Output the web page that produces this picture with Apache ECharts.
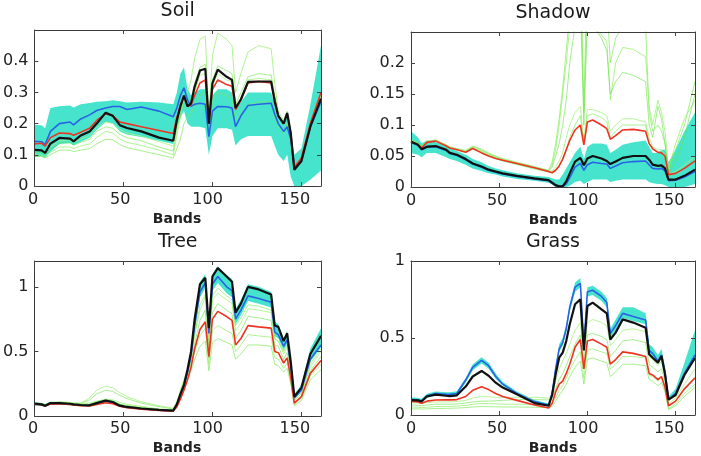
<!DOCTYPE html>
<html><head><meta charset="utf-8">
<script src="https://cdn.jsdelivr.net/npm/echarts@6/dist/echarts.min.js"></script>
<style>html,body{margin:0;padding:0;background:#fff}#c{width:701px;height:456px}</style>
</head><body><div id="c"></div>
<script>
// Band positions at which values were read
const bands = [0,4,6,9,14,20,22,26,31,35,40,44,48,52,60,70,78,80,82,84,86,88,90,93,96,98,100,103,108,111,113,116,120,126,133,135,137,140,142,144,146,150,155,161];
const titles = ['Soil','Shadow','Tree','Grass'];
const xName = 'Bands';

// ---- Soil ----
const soilBlack = [0.116,0.114,0.106,0.136,0.154,0.152,0.143,0.162,0.175,0.2, 0.235,0.225,0.195,0.186,0.175,0.155,0.145,0.21,0.255,0.29, 0.255,0.265,0.318,0.37,0.376,0.2,0.33,0.373,0.35,0.34, 0.25,0.278,0.334,0.335,0.335,0.27,0.225,0.2,0.234,0.17, 0.052,0.08,0.19,0.28];
const soilRed = [0.135,0.137,0.128,0.155,0.17,0.168,0.163,0.172,0.185,0.21, 0.232,0.225,0.205,0.2,0.19,0.178,0.168,0.22,0.26,0.285, 0.255,0.26,0.29,0.33,0.34,0.2,0.31,0.34,0.325,0.32, 0.245,0.275,0.33,0.335,0.33,0.28,0.225,0.2,0.23,0.17, 0.06,0.09,0.2,0.3];
const soilBlue = [0.143,0.142,0.133,0.175,0.2,0.205,0.196,0.215,0.228,0.242, 0.25,0.255,0.255,0.245,0.253,0.24,0.222,0.25,0.29,0.315, 0.275,0.255,0.262,0.265,0.262,0.158,0.24,0.255,0.254,0.25, 0.19,0.225,0.258,0.262,0.265,0.23,0.2,0.175,0.19,0.15, 0.06,0.08,0.19,0.27];
const soilLo = [0.092,0.095,0.09,0.11,0.135,0.138,0.13,0.142,0.155,0.18, 0.205,0.2,0.175,0.165,0.157,0.145,0.135,0.19,0.22,0.24, 0.2,0.19,0.19,0.19,0.185,0.1,0.16,0.185,0.185,0.18, 0.13,0.15,0.16,0.16,0.16,0.13,0.1,0.08,0.1,0.03, 0,0,0.02,0.05];
const soilHi = [0.196,0.195,0.185,0.25,0.256,0.258,0.252,0.262,0.266,0.27, 0.272,0.275,0.272,0.268,0.27,0.268,0.262,0.3,0.36,0.38, 0.31,0.29,0.3,0.31,0.31,0.22,0.29,0.31,0.31,0.3, 0.245,0.27,0.3,0.3,0.3,0.26,0.23,0.2,0.23,0.17, 0.1,0.12,0.26,0.45];
const soilG1 = [0.1,0.1,0.095,0.108,0.125,0.125,0.12,0.128,0.135,0.155, 0.175,0.17,0.15,0.14,0.13,0.115,0.1,0.16,0.22,0.28, 0.3,0.34,0.41,0.47,0.48,0.22,0.42,0.49,0.47,0.45, 0.3,0.36,0.43,0.45,0.44,0.33,0.24,0.21,0.24,0.17, 0.06,0.09,0.2,0.29];
const soilG2 = [0.108,0.108,0.102,0.118,0.138,0.138,0.132,0.14,0.15,0.175, 0.19,0.185,0.165,0.155,0.145,0.125,0.112,0.18,0.23,0.27, 0.26,0.28,0.33,0.38,0.39,0.2,0.34,0.385,0.37,0.36, 0.26,0.3,0.35,0.36,0.355,0.29,0.23,0.2,0.235,0.17, 0.055,0.085,0.2,0.28];
const soilG3 = [0.115,0.115,0.108,0.125,0.145,0.148,0.14,0.15,0.162,0.188, 0.205,0.2,0.18,0.17,0.16,0.142,0.128,0.2,0.24,0.28, 0.25,0.26,0.3,0.355,0.36,0.2,0.32,0.36,0.34,0.335, 0.245,0.28,0.34,0.345,0.34,0.27,0.22,0.2,0.23,0.17, 0.055,0.085,0.2,0.29];
const soilG4 = [0.095,0.095,0.09,0.1,0.115,0.115,0.11,0.115,0.12,0.135, 0.15,0.148,0.133,0.123,0.113,0.1,0.09,0.12,0.15,0.2, 0.22,0.23,0.26,0.29,0.3,0.18,0.27,0.3,0.29,0.28, 0.21,0.23,0.26,0.27,0.27,0.22,0.19,0.17,0.2,0.15, 0.06,0.09,0.19,0.28];

// ---- Shadow ----
const shadowBlack = [0.073,0.068,0.061,0.065,0.066,0.06,0.055,0.052,0.045,0.038, 0.033,0.028,0.025,0.022,0.018,0.014,0.011,0.007,0.003,0.001, 0.001,0.009,0.022,0.041,0.047,0.035,0.046,0.05,0.046,0.042, 0.037,0.041,0.047,0.05,0.05,0.044,0.036,0.034,0.035,0.03, 0.012,0.012,0.018,0.028];
const shadowRed = [0.074,0.068,0.063,0.072,0.074,0.066,0.063,0.06,0.056,0.062, 0.055,0.05,0.046,0.043,0.038,0.031,0.025,0.023,0.027,0.034, 0.045,0.06,0.075,0.092,0.1,0.068,0.105,0.108,0.1,0.094, 0.077,0.083,0.092,0.093,0.09,0.07,0.062,0.056,0.055,0.05, 0.02,0.022,0.03,0.042];
const shadowBlue = [0.072,0.067,0.06,0.064,0.065,0.059,0.054,0.051,0.044,0.037, 0.032,0.027,0.024,0.021,0.017,0.013,0.01,0.006,0.002,0.001, 0.001,0.005,0.015,0.032,0.038,0.027,0.036,0.04,0.038,0.037, 0.03,0.034,0.039,0.041,0.042,0.036,0.03,0.029,0.03,0.026, 0.01,0.011,0.016,0.025];
const shadowLo = [0.055,0.052,0.048,0.055,0.055,0.048,0.045,0.042,0.036,0.03, 0.026,0.022,0.02,0.017,0.013,0.01,0.007,0.004,0.0,0.0, 0.0,0.0,0.002,0.008,0.01,0.005,0.008,0.012,0.012,0.012, 0.008,0.01,0.012,0.012,0.012,0.008,0.006,0.005,0.005,0.003, 0.0,0.0,0.0,0.005];
const shadowHi = [0.09,0.08,0.07,0.075,0.072,0.066,0.062,0.058,0.052,0.045, 0.04,0.034,0.03,0.027,0.022,0.018,0.016,0.014,0.012,0.012, 0.02,0.03,0.04,0.055,0.065,0.045,0.065,0.07,0.07,0.068, 0.055,0.06,0.068,0.072,0.075,0.065,0.055,0.055,0.06,0.06, 0.04,0.06,0.09,0.12];
const shadowG1 = [0.076,0.071,0.066,0.074,0.076,0.068,0.065,0.062,0.059,0.066, 0.061,0.055,0.05,0.046,0.04,0.033,0.027,0.04,0.07,0.11, 0.16,0.22,0.28,0.35,0.38,0.13,0.36,0.34,0.32,0.3, 0.2,0.24,0.26,0.26,0.26,0.12,0.09,0.1,0.09,0.07, 0.025,0.06,0.1,0.17];
const shadowG2 = [0.075,0.07,0.065,0.073,0.075,0.067,0.064,0.061,0.057,0.064, 0.058,0.053,0.048,0.044,0.038,0.031,0.026,0.032,0.05,0.07, 0.1,0.14,0.2,0.26,0.3,0.1,0.27,0.26,0.24,0.22, 0.15,0.17,0.185,0.18,0.17,0.1,0.08,0.13,0.11,0.07, 0.022,0.04,0.08,0.15];
const shadowG3 = [0.075,0.069,0.064,0.073,0.075,0.067,0.064,0.061,0.057,0.063, 0.057,0.052,0.047,0.043,0.037,0.03,0.025,0.026,0.032,0.042, 0.055,0.08,0.1,0.12,0.13,0.075,0.125,0.125,0.12,0.115, 0.09,0.1,0.11,0.11,0.105,0.08,0.065,0.06,0.06,0.05, 0.02,0.025,0.035,0.05];
const shadowG4 = [0.074,0.069,0.064,0.072,0.074,0.066,0.063,0.06,0.056,0.062, 0.056,0.051,0.046,0.042,0.036,0.029,0.024,0.024,0.028,0.034, 0.045,0.06,0.08,0.1,0.115,0.07,0.115,0.118,0.112,0.105, 0.08,0.09,0.1,0.1,0.1,0.07,0.06,0.056,0.055,0.045, 0.018,0.022,0.03,0.045];
const shadowG5 = [0.076,0.07,0.065,0.073,0.075,0.068,0.064,0.061,0.058,0.065, 0.06,0.054,0.049,0.045,0.039,0.032,0.026,0.035,0.06,0.1, 0.15,0.2,0.26,0.3,0.32,0.12,0.3,0.26,0.245,0.235, 0.14,0.2,0.225,0.222,0.21,0.13,0.1,0.14,0.12,0.09, 0.03,0.07,0.11,0.14];

// ---- Tree ----
const treeBlack = [0.097,0.09,0.08,0.1,0.1,0.095,0.09,0.085,0.083,0.1, 0.12,0.108,0.08,0.07,0.058,0.047,0.042,0.09,0.17,0.24, 0.36,0.5,0.75,1.02,1.07,0.68,1.08,1.145,1.08,1.04, 0.8,0.87,1.0,0.98,0.94,0.7,0.69,0.58,0.64,0.42, 0.15,0.22,0.48,0.62];
const treeBlue = [0.095,0.088,0.078,0.098,0.098,0.093,0.088,0.083,0.081,0.097, 0.115,0.104,0.078,0.068,0.056,0.045,0.04,0.085,0.16,0.23, 0.34,0.47,0.7,0.96,1.03,0.64,1.02,1.08,1.0,0.97, 0.75,0.82,0.93,0.91,0.88,0.65,0.63,0.54,0.59,0.39, 0.14,0.2,0.44,0.55];
const treeRed = [0.09,0.087,0.078,0.092,0.095,0.09,0.086,0.08,0.078,0.09, 0.102,0.095,0.075,0.065,0.053,0.042,0.038,0.07,0.13,0.2, 0.28,0.38,0.52,0.67,0.73,0.46,0.75,0.81,0.77,0.74, 0.55,0.6,0.7,0.69,0.68,0.5,0.49,0.41,0.45,0.3, 0.1,0.15,0.33,0.43];
const treeLo = [0.082,0.078,0.07,0.088,0.088,0.084,0.08,0.075,0.073,0.088, 0.105,0.095,0.07,0.06,0.05,0.04,0.036,0.075,0.145,0.21, 0.31,0.44,0.66,0.92,0.99,0.6,0.97,1.03,0.95,0.92, 0.71,0.78,0.89,0.87,0.84,0.62,0.6,0.51,0.56,0.37, 0.13,0.19,0.42,0.53];
const treeHi = [0.108,0.1,0.092,0.11,0.11,0.105,0.1,0.095,0.093,0.112, 0.13,0.12,0.092,0.08,0.066,0.054,0.05,0.1,0.18,0.26, 0.38,0.52,0.78,1.04,1.1,0.7,1.1,1.16,1.09,1.06, 0.83,0.9,1.02,1.0,0.96,0.73,0.71,0.6,0.66,0.44, 0.17,0.24,0.52,0.68];
const treeG1 = [0.1,0.095,0.088,0.1,0.11,0.105,0.1,0.1,0.14,0.2, 0.232,0.22,0.18,0.15,0.11,0.08,0.06,0.11,0.2,0.28, 0.36,0.45,0.62,0.82,0.92,0.5,0.9,0.95,0.9,0.87, 0.66,0.72,0.83,0.82,0.8,0.6,0.58,0.48,0.53,0.35, 0.12,0.17,0.38,0.5];
const treeG2 = [0.098,0.093,0.086,0.098,0.105,0.1,0.097,0.098,0.125,0.17, 0.2,0.19,0.16,0.135,0.1,0.072,0.055,0.1,0.19,0.27, 0.34,0.42,0.56,0.74,0.82,0.45,0.8,0.87,0.82,0.79, 0.6,0.66,0.77,0.76,0.74,0.55,0.54,0.44,0.49,0.32, 0.1,0.15,0.35,0.46];
const treeG3 = [0.1,0.095,0.09,0.1,0.108,0.104,0.1,0.097,0.1,0.115, 0.13,0.125,0.105,0.09,0.075,0.055,0.048,0.09,0.17,0.25, 0.32,0.4,0.5,0.62,0.68,0.4,0.66,0.7,0.66,0.64, 0.5,0.55,0.63,0.62,0.61,0.45,0.44,0.37,0.41,0.27, 0.09,0.14,0.31,0.4];
const treeG4 = [0.092,0.088,0.082,0.09,0.095,0.092,0.09,0.088,0.09,0.1, 0.112,0.108,0.092,0.08,0.066,0.05,0.045,0.08,0.15,0.22, 0.28,0.35,0.44,0.54,0.58,0.35,0.57,0.6,0.57,0.55, 0.44,0.48,0.55,0.55,0.54,0.4,0.39,0.34,0.37,0.25, 0.08,0.12,0.28,0.36];
const treeG5 = [0.096,0.09,0.082,0.097,0.1,0.096,0.092,0.088,0.09,0.11, 0.125,0.115,0.09,0.078,0.065,0.05,0.044,0.09,0.17,0.25, 0.34,0.46,0.64,0.86,0.94,0.55,0.93,0.99,0.93,0.9, 0.7,0.76,0.86,0.85,0.82,0.6,0.58,0.5,0.55,0.36, 0.12,0.18,0.4,0.52];

// ---- Grass ----
const grassBlack = [0.097,0.095,0.088,0.12,0.132,0.125,0.123,0.128,0.185,0.25, 0.286,0.255,0.21,0.178,0.135,0.077,0.06,0.13,0.264,0.372, 0.405,0.48,0.589,0.719,0.751,0.42,0.708,0.73,0.686,0.66, 0.49,0.535,0.621,0.6,0.567,0.394,0.372,0.34,0.383,0.264, 0.1,0.13,0.26,0.37];
const grassBlue = [0.1,0.098,0.092,0.125,0.14,0.135,0.135,0.14,0.227,0.31, 0.355,0.32,0.25,0.2,0.14,0.087,0.065,0.14,0.3,0.43, 0.47,0.56,0.7,0.83,0.855,0.45,0.8,0.81,0.77,0.73, 0.53,0.58,0.66,0.64,0.617,0.42,0.4,0.35,0.39,0.28, 0.1,0.14,0.27,0.39];
const grassRed = [0.088,0.085,0.076,0.09,0.097,0.098,0.098,0.1,0.12,0.16, 0.184,0.165,0.14,0.12,0.095,0.065,0.045,0.075,0.15,0.2, 0.22,0.27,0.33,0.44,0.49,0.3,0.48,0.49,0.46,0.44, 0.33,0.36,0.41,0.4,0.38,0.27,0.26,0.23,0.25,0.18, 0.06,0.09,0.17,0.24];
const grassLo = [0.09,0.088,0.082,0.112,0.128,0.122,0.122,0.128,0.21,0.29, 0.335,0.3,0.235,0.19,0.132,0.08,0.06,0.13,0.28,0.41, 0.45,0.54,0.67,0.8,0.83,0.43,0.77,0.78,0.74,0.7, 0.5,0.55,0.63,0.61,0.59,0.4,0.38,0.33,0.37,0.26, 0.09,0.13,0.25,0.36];
const grassHi = [0.115,0.11,0.105,0.138,0.152,0.148,0.148,0.155,0.24,0.33, 0.375,0.34,0.27,0.215,0.152,0.098,0.075,0.16,0.32,0.46, 0.5,0.59,0.72,0.86,0.89,0.48,0.83,0.84,0.8,0.76, 0.56,0.62,0.7,0.7,0.66,0.46,0.44,0.39,0.43,0.31, 0.12,0.17,0.34,0.55];
const grassG1 = [0.08,0.078,0.075,0.08,0.085,0.085,0.085,0.088,0.095,0.11, 0.12,0.118,0.115,0.115,0.115,0.115,0.11,0.13,0.22,0.3, 0.35,0.4,0.46,0.55,0.6,0.35,0.6,0.62,0.6,0.58, 0.45,0.49,0.55,0.56,0.54,0.38,0.36,0.32,0.35,0.25, 0.07,0.11,0.2,0.3];
const grassG2 = [0.065,0.063,0.06,0.065,0.07,0.07,0.07,0.072,0.078,0.085, 0.09,0.09,0.092,0.095,0.1,0.1,0.098,0.11,0.17,0.23, 0.27,0.32,0.38,0.46,0.52,0.3,0.52,0.53,0.51,0.49, 0.38,0.42,0.48,0.49,0.47,0.33,0.31,0.28,0.3,0.22, 0.06,0.09,0.17,0.25];
const grassG3 = [0.052,0.05,0.048,0.05,0.055,0.055,0.056,0.058,0.062,0.07, 0.075,0.074,0.072,0.07,0.07,0.068,0.065,0.075,0.11,0.16, 0.19,0.24,0.29,0.36,0.41,0.24,0.42,0.43,0.41,0.4, 0.3,0.33,0.38,0.38,0.37,0.26,0.25,0.22,0.24,0.17, 0.04,0.07,0.14,0.2];
const grassG4 = [0.04,0.04,0.038,0.04,0.042,0.043,0.044,0.045,0.048,0.052, 0.055,0.054,0.053,0.052,0.052,0.05,0.048,0.055,0.09,0.13, 0.16,0.2,0.25,0.31,0.35,0.2,0.36,0.37,0.35,0.34, 0.25,0.28,0.33,0.33,0.32,0.23,0.22,0.19,0.21,0.15, 0.035,0.06,0.12,0.18];

const panels = [
  {name: titles[0], box: [33, 30, 288, 156], yMax: 0.5, yStep: 0.1, showTop: false,
   lo: soilLo, hi: soilHi, greens: [soilG4, soilG1, soilG2, soilG3], blue: soilBlue, red: soilRed, black: soilBlack},
  {name: titles[1], box: [411, 32, 284, 155], yMax: 0.25, yStep: 0.05, showTop: false,
   lo: shadowLo, hi: shadowHi, greens: [shadowG1, shadowG5, shadowG2, shadowG3, shadowG4], blue: shadowBlue, red: shadowRed, black: shadowBlack},
  {name: titles[2], box: [33, 261, 288, 155], yMax: 1.2, yStep: 0.5, showTop: false,
   lo: treeLo, hi: treeHi, greens: [treeG4, treeG3, treeG2, treeG1, treeG5], blue: treeBlue, red: treeRed, black: treeBlack},
  {name: titles[3], box: [411, 261, 284, 154], yMax: 1, yStep: 0.5, showTop: true,
   lo: grassLo, hi: grassHi, greens: [grassG4, grassG3, grassG2, grassG1], blue: grassBlue, red: grassRed, black: grassBlack}
];

const FONT = 'DejaVu Sans';
const CYAN = '#46e4cc';
const GREENS = ['rgba(120,232,80,0.65)','rgba(150,240,110,0.75)','rgba(105,225,70,0.6)','rgba(165,242,130,0.8)','rgba(125,235,90,0.65)'];
const tick = {show: true, inside: true, length: 4, lineStyle: {color: '#444', width: 1}};
const line = {show: true, onZero: false, lineStyle: {color: '#3a3a3a', width: 1}};

const option = {animation: false, backgroundColor: '#fff', grid: [], xAxis: [], yAxis: [], series: []};
const pts = arr => bands.map((b, k) => [b, arr[k]]);

panels.forEach((p, i) => {
  const [l, t, w, h] = p.box;
  const g = option.grid.length;
  option.grid.push({left: l, top: t, width: w, height: h, show: false});
  option.grid.push({left: l, top: t, width: w, height: h, show: false});
  const xb = option.xAxis.length;
  option.xAxis.push({gridIndex: g, type: 'value', min: 0, max: 161, interval: 50, position: 'bottom', z: 10,
    axisLine: line, axisTick: tick, axisLabel: {show: false}, splitLine: {show: false}});
  option.xAxis.push({gridIndex: g, type: 'value', min: 0, max: 161, interval: 50, position: 'top', z: 10,
    axisLine: line, axisTick: tick, axisLabel: {show: false}, splitLine: {show: false},
    name: p.name, nameLocation: 'middle', nameGap: 9,
    nameTextStyle: {fontFamily: FONT, fontSize: 19, color: '#1a1a1a'}});
  option.xAxis.push({gridIndex: g + 1, type: 'value', min: 0, max: 165, interval: 50, position: 'bottom',
    axisLine: {show: false}, axisTick: {show: false},
    axisLabel: {fontFamily: FONT, fontSize: 16, color: '#222', margin: 6, showMaxLabel: false},
    splitLine: {show: false},
    name: xName, nameLocation: 'middle', nameGap: 26,
    nameTextStyle: {fontFamily: FONT, fontSize: 14, fontWeight: 'bold', color: '#222'}});
  const yl = option.yAxis.length;
  option.yAxis.push({gridIndex: g, type: 'value', min: 0, max: p.yMax, interval: p.yStep, position: 'left', z: 10,
    axisLine: line, axisTick: tick,
    axisLabel: {fontFamily: FONT, fontSize: 16, color: '#222', margin: 6, showMaxLabel: p.showTop},
    splitLine: {show: false}});
  option.yAxis.push({gridIndex: g, type: 'value', min: 0, max: p.yMax, interval: p.yStep, position: 'right', z: 10,
    axisLine: line, axisTick: tick, axisLabel: {show: false}, splitLine: {show: false}});
  option.yAxis.push({gridIndex: g + 1, type: 'value', show: false, min: 0, max: 1});

  const base = {type: 'line', xAxisIndex: xb, yAxisIndex: yl, symbol: 'none', silent: true};
  // cyan envelope: upper edge filled to 0, then lower edge filled white to 0
  option.series.push(Object.assign({}, base, {data: pts(p.hi), lineStyle: {width: 0, opacity: 0},
    areaStyle: {color: CYAN, opacity: 1}, z: 1}));
  option.series.push(Object.assign({}, base, {data: pts(p.lo), lineStyle: {width: 0, opacity: 0},
    areaStyle: {color: '#ffffff', opacity: 1}, z: 1}));
  p.greens.forEach((gArr, j) => {
    option.series.push(Object.assign({}, base, {data: pts(gArr),
      lineStyle: {color: GREENS[j % GREENS.length], width: 1}, z: 2}));
  });
  option.series.push(Object.assign({}, base, {data: pts(p.blue), lineStyle: {color: '#2a62e6', width: 1.6}, z: 3}));
  option.series.push(Object.assign({}, base, {data: pts(p.red), lineStyle: {color: '#ee3322', width: 1.6}, z: 4}));
  option.series.push(Object.assign({}, base, {data: pts(p.black), lineStyle: {color: '#111', width: 2.2}, z: 5}));
});

const chart = echarts.init(document.getElementById('c'), null, {renderer: 'canvas'});
chart.setOption(option);
</script>
</body></html>
